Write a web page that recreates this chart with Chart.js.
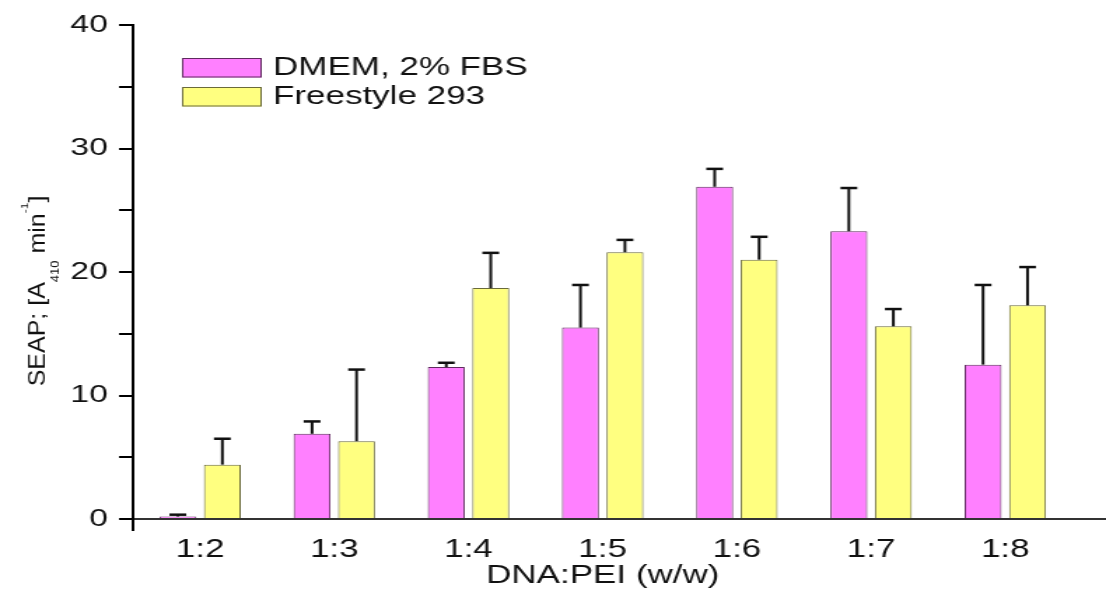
<!DOCTYPE html>
<html>
<head>
<meta charset="utf-8">
<script src="https://cdn.jsdelivr.net/npm/chart.js@4/dist/chart.umd.min.js"></script>
<style>
  html, body { margin: 0; padding: 0; background: #ffffff; overflow: hidden; }
  /* the drawing surface is laid out narrower and widened by CSS, giving the wide lettering */
  #c { display: block; width: 1106px !important; height: 589px !important; }
</style>
</head>
<body>
<canvas id="c" width="790" height="589" style="width:1106px;height:589px;"></canvas>
<script>
// ---- data ----
const categories = ['1:2', '1:3', '1:4', '1:5', '1:6', '1:7', '1:8'];
const dmemValues = [0.2, 6.9, 12.3, 15.5, 26.9, 23.3, 12.5];
const dmemErrors = [0.15, 1.0, 0.35, 3.45, 1.45, 3.5, 6.45];
const freestyleValues = [4.4, 6.3, 18.7, 21.6, 21.0, 15.6, 17.3];
const freestyleErrors = [2.1, 5.8, 2.85, 1.0, 1.85, 1.4, 3.1];
const seriesNames = ['DMEM, 2% FBS', 'Freestyle 293'];
const yTicks = [0, 10, 20, 30, 40];
const xTitle = 'DNA:PEI (w/w)';

// ---- styling ----
const STRETCH = 1106 / 790;
const FONT = "'Liberation Sans', Arial, Helvetica, sans-serif";
const TEXT = '#111111';
const PINK = '#ff80ff';
const YELLOW = '#ffff80';

// upward error bars on top of every bar
const errorBars = {
  id: 'errorBars',
  afterDatasetsDraw(chart) {
    const ctx = chart.ctx;
    const yScale = chart.scales.y;
    chart.data.datasets.forEach((ds, i) => {
      const meta = chart.getDatasetMeta(i);
      meta.data.forEach((bar, j) => {
        const top = yScale.getPixelForValue(ds.data[j] + ds.errors[j]);
        ctx.save();
        ctx.strokeStyle = '#111111';
        ctx.lineCap = 'butt';
        ctx.lineWidth = 2;
        ctx.beginPath();
        ctx.moveTo(bar.x, bar.y);
        ctx.lineTo(bar.x, top);
        ctx.stroke();
        ctx.lineWidth = 2.5;
        ctx.beginPath();
        ctx.moveTo(bar.x - 6, top);
        ctx.lineTo(bar.x + 6, top);
        ctx.stroke();
        ctx.restore();
      });
    });
  }
};

// legend box in the upper left of the plot
const insetLegend = {
  id: 'insetLegend',
  afterDraw(chart) {
    const ctx = chart.ctx;
    ctx.save();
    chart.data.datasets.forEach((ds, i) => {
      const y = 58 + i * 29;
      ctx.fillStyle = ds.backgroundColor;
      ctx.fillRect(130, y, 57, 19.5);
      ctx.strokeStyle = ds.borderColor;
      ctx.lineWidth = 1;
      ctx.strokeRect(130.5, y + 0.5, 56, 18.5);
      ctx.fillStyle = TEXT;
      ctx.font = '25px ' + FONT;
      ctx.textBaseline = 'middle';
      ctx.textAlign = 'left';
      ctx.fillText(ds.label, 195, y + 10.5);
    });
    ctx.restore();
  }
};

// y-axis title with subscript and superscript
const yAxisTitle = {
  id: 'yAxisTitle',
  afterDraw(chart) {
    const ctx = chart.ctx;
    const parts = [
      { t: 'SEAP; [A', size: 25, dy: 0 },
      { t: '410', size: 13, dy: 15 },
      { t: ' min', size: 25, dy: 0 },
      { t: '-1', size: 12, dy: -19 },
      { t: ']', size: 25, dy: 0 }
    ];
    let total = 0;
    parts.forEach(p => { ctx.font = p.size + 'px ' + FONT; p.w = ctx.measureText(p.t).width; total += p.w; });
    ctx.save();
    ctx.translate(32, 291);
    ctx.scale(0.9 / STRETCH, 1);
    ctx.rotate(-Math.PI / 2);
    ctx.fillStyle = TEXT;
    ctx.textBaseline = 'alphabetic';
    ctx.textAlign = 'left';
    let x = -total / 2;
    parts.forEach(p => {
      ctx.font = p.size + 'px ' + FONT;
      ctx.fillText(p.t, x, p.dy);
      x += p.w;
    });
    ctx.restore();
  }
};

// y axis runs a little below zero; the x axis line runs on to the right edge
const axisExtras = {
  id: 'axisExtras',
  afterDraw(chart) {
    const ctx = chart.ctx;
    const a = chart.chartArea;
    ctx.save();
    ctx.strokeStyle = '#000000';
    ctx.lineWidth = 2;
    ctx.beginPath();
    ctx.moveTo(a.left, a.bottom);
    ctx.lineTo(a.left, a.bottom + 12);
    ctx.stroke();
    ctx.strokeStyle = '#333333';
    ctx.beginPath();
    ctx.moveTo(a.right - 1, a.bottom);
    ctx.lineTo(chart.width, a.bottom);
    ctx.stroke();
    ctx.restore();
  }
};

new Chart(document.getElementById('c'), {
  type: 'bar',
  data: {
    labels: categories,
    datasets: [
      {
        label: seriesNames[0],
        data: dmemValues,
        errors: dmemErrors,
        backgroundColor: PINK,
        borderColor: '#5e2a5e',
        borderWidth: 1
      },
      {
        label: seriesNames[1],
        data: freestyleValues,
        errors: freestyleErrors,
        backgroundColor: YELLOW,
        borderColor: '#6a6a3a',
        borderWidth: 1
      }
    ]
  },
  options: {
    responsive: false,
    devicePixelRatio: 1,
    animation: false,
    categoryPercentage: 0.663,
    barPercentage: 0.83,
    layout: { padding: { top: 25, right: 24, bottom: 0, left: 0 } },
    plugins: {
      legend: { display: false },
      tooltip: { enabled: false }
    },
    scales: {
      x: {
        afterFit: s => { s.height = 70; },
        grid: { display: false },
        border: { display: true, color: '#333333', width: 2 },
        ticks: {
          autoSkip: false,
          maxRotation: 0,
          padding: 8,
          color: TEXT,
          font: { family: FONT, size: 25 }
        },
        title: {
          display: true,
          text: xTitle,
          color: TEXT,
          font: { family: FONT, size: 25, lineHeight: 1 },
          padding: { top: 0, bottom: 0 }
        }
      },
      y: {
        min: 0,
        max: 40,
        afterFit: s => { s.width = 95; },
        grid: {
          display: true,
          drawOnChartArea: false,
          drawTicks: true,
          tickLength: 10,
          color: '#000000',
          lineWidth: 2
        },
        border: { display: true, color: '#000000', width: 2 },
        ticks: {
          stepSize: 5,
          autoSkip: false,
          padding: 8,
          color: TEXT,
          font: { family: FONT, size: 24 },
          callback: v => (yTicks.includes(v) ? String(v) : '')
        }
      }
    }
  },
  plugins: [errorBars, insetLegend, yAxisTitle, axisExtras]
});
</script>
</body>
</html>
